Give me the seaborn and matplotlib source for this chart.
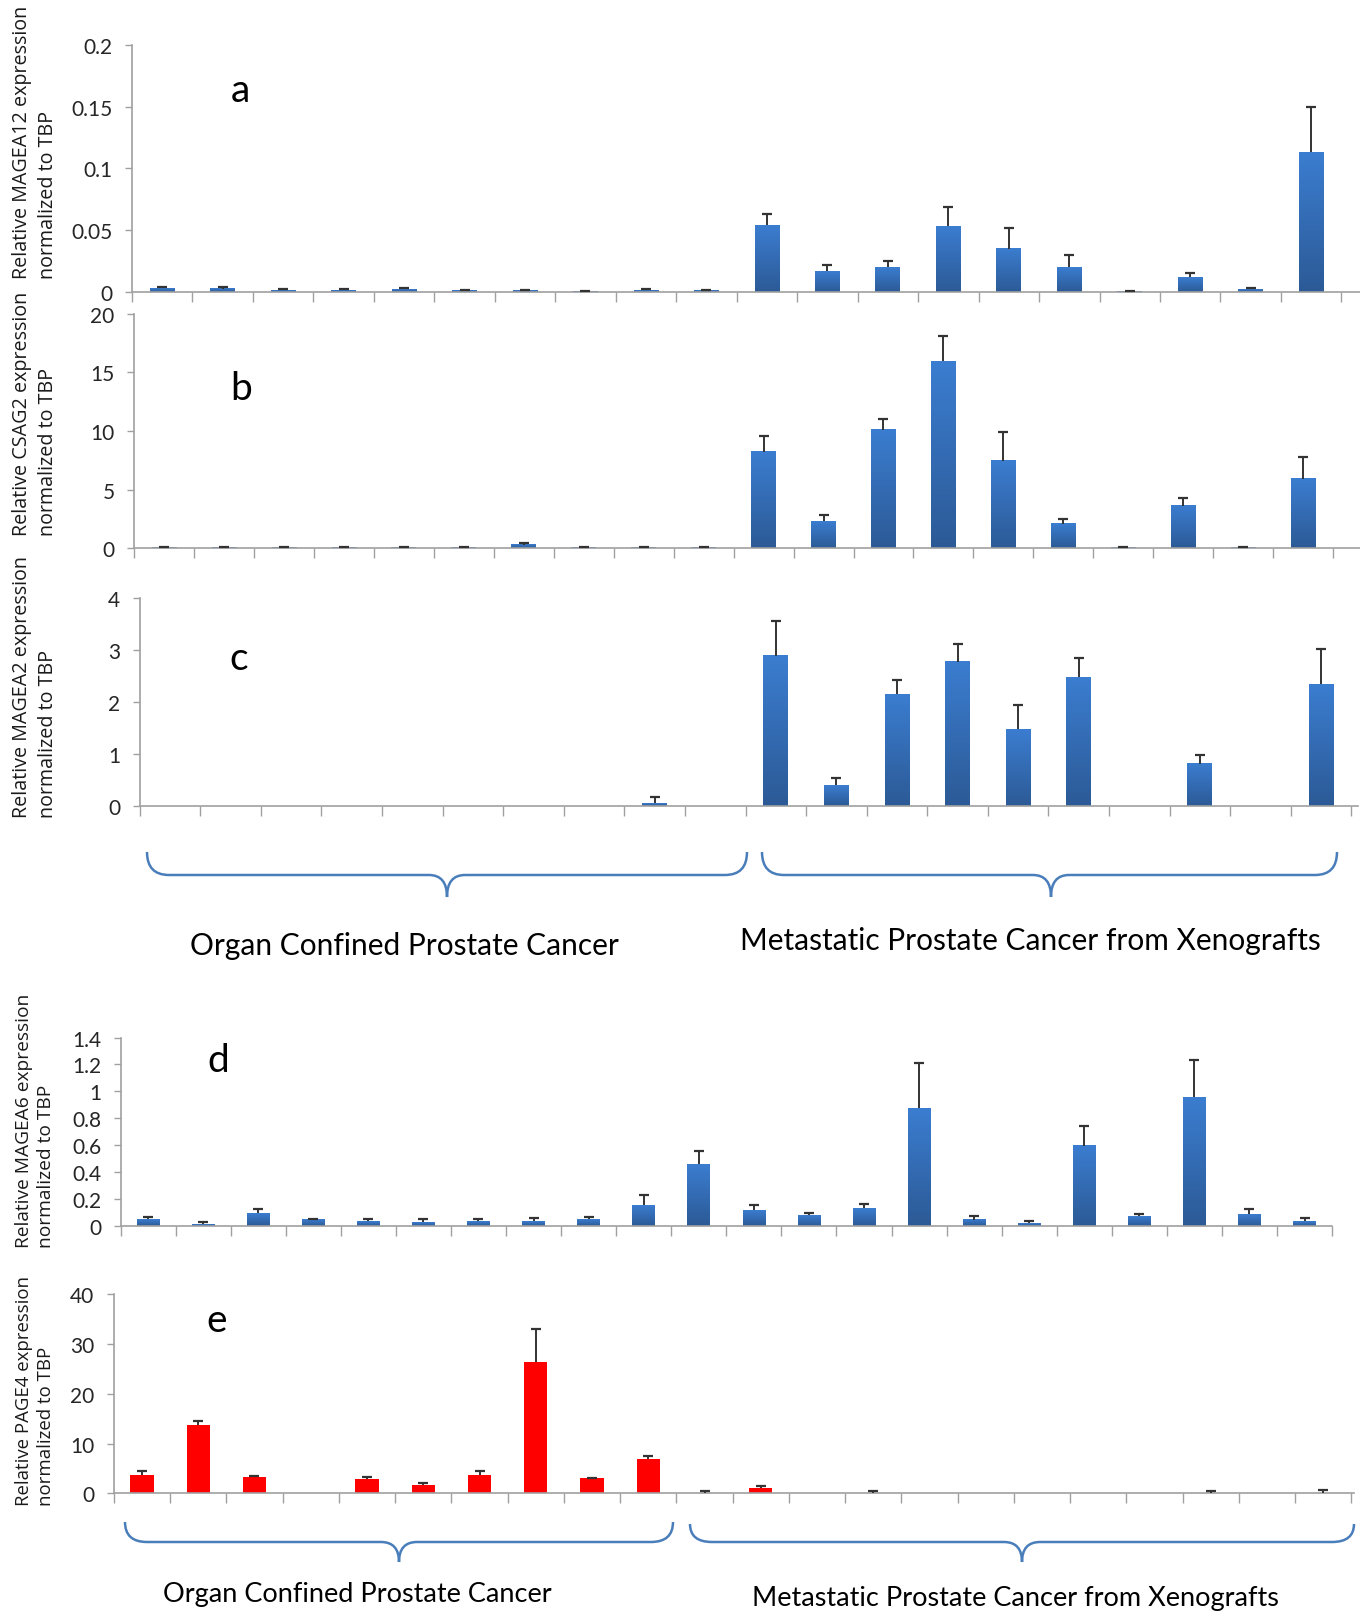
import numpy as np
import pandas as pd
import matplotlib
matplotlib.use("Agg")
import matplotlib.pyplot as plt
import seaborn as sns
from matplotlib.path import Path
from matplotlib.patches import PathPatch
from matplotlib.ticker import FuncFormatter
from matplotlib.colors import LinearSegmentedColormap

sns.set_style("white")
plt.rcParams["font.family"] = ["Lato", "DejaVu Sans"]

# ---------------- data ----------------
organ_abc = [f"OC{i}" for i in range(1, 11)]
xeno_abc = [f"X{i}" for i in range(1, 11)]
cats_abc = organ_abc + xeno_abc

organ_de = [f"OC{i}" for i in range(1, 11)]
xeno_de = [f"X{i}" for i in range(1, 13)]
cats_de = organ_de + xeno_de

mage_a12 = [0.003, 0.0025, 0.0015, 0.0015, 0.002, 0.0012, 0.0012, 0.0006, 0.0015, 0.001,
            0.054, 0.017, 0.020, 0.053, 0.035, 0.020, 0.0008, 0.012, 0.0022, 0.113]
mage_a12_err = [0.001, 0.0012, 0.0005, 0.0005, 0.0008, 0.0005, 0.0005, 0.0003, 0.0005, 0.0004,
                0.009, 0.005, 0.005, 0.016, 0.017, 0.010, 0.0003, 0.003, 0.001, 0.037]

csag2 = [0.05, 0.08, 0.05, 0.05, 0.07, 0.05, 0.30, 0.06, 0.06, 0.05,
         8.25, 2.3, 10.1, 15.95, 7.45, 2.1, 0.05, 3.6, 0.05, 5.9]
csag2_err = [0.02, 0.04, 0.02, 0.02, 0.04, 0.02, 0.15, 0.03, 0.03, 0.02,
             1.3, 0.5, 0.9, 2.15, 2.5, 0.4, 0.02, 0.7, 0.02, 1.9]

mage_a2 = [0, 0, 0, 0, 0, 0, 0, 0, 0.05, 0,
           2.89, 0.40, 2.15, 2.77, 1.47, 2.48, 0, 0.81, 0, 2.34]
mage_a2_err = [0, 0, 0, 0, 0, 0, 0, 0, 0.12, 0,
               0.66, 0.14, 0.27, 0.35, 0.47, 0.37, 0, 0.16, 0, 0.68]

mage_a6 = [0.052, 0.012, 0.094, 0.045, 0.035, 0.027, 0.035, 0.035, 0.052, 0.151,
           0.457, 0.119, 0.079, 0.134, 0.874, 0.045, 0.020, 0.596, 0.074, 0.958, 0.089, 0.035]
mage_a6_err = [0.013, 0.013, 0.033, 0.007, 0.017, 0.025, 0.017, 0.022, 0.013, 0.075,
               0.099, 0.037, 0.015, 0.030, 0.335, 0.027, 0.012, 0.146, 0.013, 0.276, 0.035, 0.020]

page4 = [3.8, 13.8, 3.27, 0, 2.8, 1.73, 3.8, 26.33, 3.0, 7.0,
         0.05, 1.07, 0, 0.05, 0, 0, 0, 0, 0, 0.05, 0, 0.1]
page4_err = [0.67, 0.73, 0.33, 0, 0.47, 0.40, 0.67, 6.6, 0.1, 0.47,
             0.35, 0.46, 0, 0.35, 0, 0, 0, 0, 0, 0.35, 0, 0.5]

ylabels = ["Relative MAGEA12 expression\nnormalized to TBP",
           "Relative CSAG2 expression\nnormalized to TBP",
           "Relative MAGEA2 expression\nnormalized to TBP",
           "Relative MAGEA6 expression\nnormalized to TBP",
           "Relative PAGE4 expression\nnormalized to TBP"]
panel_letters = ["a", "b", "c", "d", "e"]
group_labels = ["Organ Confined Prostate Cancer", "Metastatic Prostate Cancer from Xenografts"]

# ---------------- figure ----------------
W, H = 1360, 1615
fig = plt.figure(figsize=(W / 100, H / 100), dpi=100)

BLUE_TOP, BLUE_BOT = "#3b7dd0", "#2c5a96"
RED = "#ff0000"
AXC = "#a0a0a0"

# left, spacing, right, y_zero, y_top (display px), ymax, yticks
panels = [
    dict(cats=cats_abc, v=mage_a12, e=mage_a12_err, left=128, sp=58.7, right=1320,
         y0=284.4, yt=44.6, ymax=0.2, ticks=[0, 0.05, 0.1, 0.15, 0.2], grad=True),
    dict(cats=cats_abc, v=csag2, e=csag2_err, left=130, sp=58.2, right=1320,
         y0=533.2, yt=305.7, ymax=20, ticks=[0, 5, 10, 15, 20], grad=True),
    dict(cats=cats_abc, v=mage_a2, e=mage_a2_err, left=135.6, sp=58.8, right=1318,
         y0=783.3, yt=581.4, ymax=4, ticks=[0, 1, 2, 3, 4], grad=True),
    dict(cats=cats_de, v=mage_a6, e=mage_a6_err, left=117, sp=53.45, right=1293,
         y0=1190.9, yt=1008.4, ymax=1.4, ticks=[0, 0.2, 0.4, 0.6, 0.8, 1, 1.2, 1.4], grad=True),
    dict(cats=cats_de, v=page4, e=page4_err, left=110.5, sp=54.6, right=1314,
         y0=1451, yt=1256.9, ymax=40, ticks=[0, 10, 20, 30, 40], grad=False),
]

grad_cmap = LinearSegmentedColormap.from_list("bar", [BLUE_BOT, BLUE_TOP])
gradient = np.linspace(0, 1, 128).reshape(-1, 1)

for p in panels:
    n = len(p["cats"])
    left = p["left"] / 1320
    width = (p["right"] - p["left"]) / 1320
    bottom = 1 - p["y0"] / 1568
    height = (p["y0"] - p["yt"]) / 1568
    ax = fig.add_axes([left, bottom, width, height])
    df = pd.DataFrame({"sample": p["cats"], "value": p["v"], "err": p["e"]})
    sns.barplot(data=df, x="sample", y="value", ax=ax, width=0.41, saturation=1,
                color=(BLUE_TOP if p["grad"] else RED), errorbar=None, linewidth=0)
    if p["grad"]:
        for patch in list(ax.patches):
            x0, y0b = patch.get_x(), patch.get_y()
            w, h = patch.get_width(), patch.get_height()
            if h <= 0:
                continue
            ax.imshow(gradient, extent=(x0, x0 + w, y0b, y0b + h), origin="lower",
                      cmap=grad_cmap, aspect="auto", zorder=patch.get_zorder() + 0.1,
                      clip_path=patch, interpolation="bilinear")
    vals = df["value"].to_numpy()
    errs = df["err"].to_numpy()
    idx = np.arange(n)
    m = errs > 0
    ax.vlines(idx[m], vals[m], vals[m] + errs[m], color="#333333", lw=1.4, zorder=5)
    ax.plot(idx[m], vals[m] + errs[m], ls="none", marker="_", ms=7, mew=1.6,
            color="#333333", zorder=5)
    slots = (p["right"] - p["left"]) / p["sp"]
    ax.set_xlim(-0.5, -0.5 + slots)
    ax.set_ylim(0, p["ymax"])
    ax.set_xticks(np.arange(-0.5, n, 1.0))
    ax.set_xticklabels([])
    ax.set_yticks(p["ticks"])
    ax.yaxis.set_major_formatter(FuncFormatter(lambda v, _: f"{v:g}"))
    ax.tick_params(axis="x", direction="out", length=7, width=1, color=AXC, bottom=True)
    ax.tick_params(axis="y", direction="out", length=5, width=1, color=AXC, left=True,
                   labelsize=15, labelcolor="#262626", pad=9)
    ax.set_xlabel("")
    ax.set_ylabel("")
    for s in ["top", "right"]:
        ax.spines[s].set_visible(False)
    for s in ["left", "bottom"]:
        ax.spines[s].set_color(AXC)
        ax.spines[s].set_linewidth(1.2)
    ax.patch.set_alpha(0)

# ---------------- overlay: labels, braces ----------------
ov = fig.add_axes([0, 0, 1, 1], facecolor="none")
ov.set_xlim(0, W)
ov.set_ylim(H, 0)
ov.axis("off")

# y-axis labels (bottom anchored, full px)
ylab_bottom = [279, 536, 818, 1248, 1506]
ylab_size = [14.2, 14.2, 14.2, 13.8, 13.4]
for txt, yb, fs in zip(ylabels, ylab_bottom, ylab_size):
    ov.text(35, yb, txt, rotation=90, ha="center", va="bottom", multialignment="left",
            fontsize=fs, family=["Open Sans", "DejaVu Sans"], linespacing=1.35, color="#1a1a1a")

# panel letters
letter_pos = [(240, 91), (241, 389), (239, 659), (218, 1061), (217, 1321)]
for l, (x, y) in zip(panel_letters, letter_pos):
    ov.text(x, y, l, ha="center", va="center", fontsize=28, color="black")


def brace(x0, x1, xm, ytop, yline, ytip, r=22, rm=18):
    verts = [(x0, ytop), (x0, yline), (x0 + r, yline),
             (xm - rm, yline),
             (xm, yline), (xm, ytip),
             (xm, yline), (xm + rm, yline),
             (x1 - r, yline),
             (x1, yline), (x1, ytop)]
    codes = [Path.MOVETO, Path.CURVE3, Path.CURVE3,
             Path.LINETO,
             Path.CURVE3, Path.CURVE3,
             Path.CURVE3, Path.CURVE3,
             Path.LINETO,
             Path.CURVE3, Path.CURVE3]
    ov.add_patch(PathPatch(Path(verts, codes), fill=False, edgecolor="#4a7ebb", lw=1.8))


brace(147, 747, 447, 853, 876, 898)
brace(762, 1337, 1051, 853, 876, 898)
brace(125, 673, 399, 1523, 1543, 1563)
brace(690, 1354, 1022, 1525, 1543, 1563)

ov.text(404, 946, group_labels[0], ha="center", va="center", fontsize=21.5, color="black")
ov.text(1030, 941, group_labels[1], ha="center", va="center", fontsize=21.5, color="black")
ov.text(357, 1595, group_labels[0], ha="center", va="center", fontsize=19.5, color="black")
ov.text(1015, 1599, group_labels[1], ha="center", va="center", fontsize=19.5, color="black")

fig.savefig("out.png", dpi=100)
